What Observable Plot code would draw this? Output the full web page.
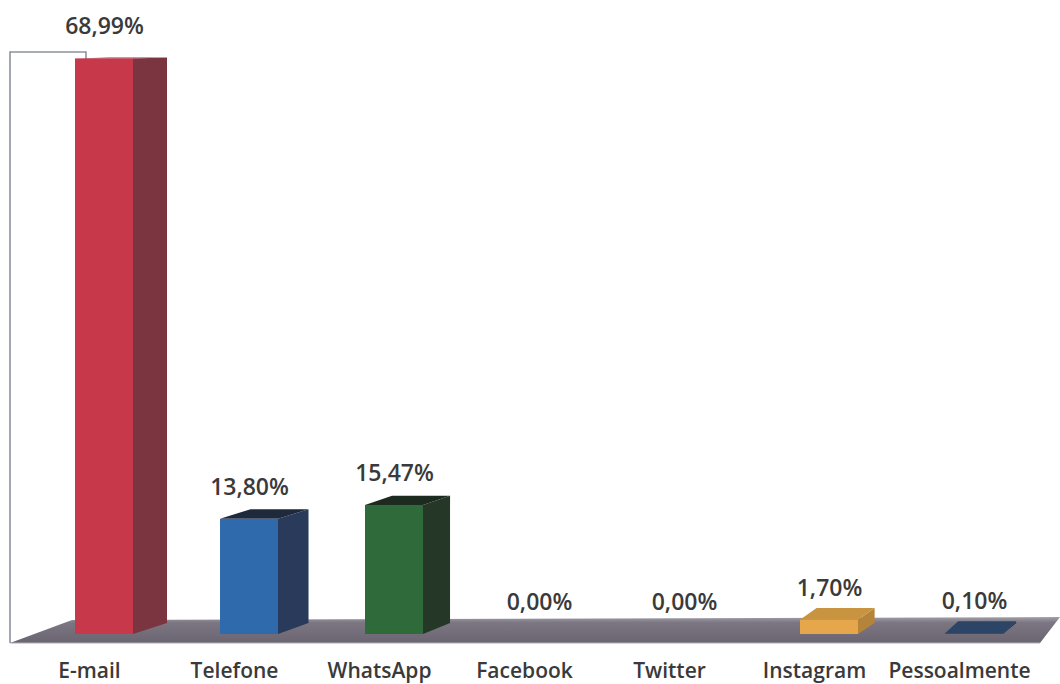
<!DOCTYPE html>
<html><head><meta charset="utf-8">
<script src="https://cdn.jsdelivr.net/npm/d3@7"></script>
<script src="https://cdn.jsdelivr.net/npm/@observablehq/plot@0.6"></script>
<style>html,body{margin:0;padding:0;background:#fff} #chart{width:1060px;height:684px;overflow:hidden}</style>
</head><body><div id="chart"></div>
<script>
const categories = ["E-mail", "Telefone", "WhatsApp", "Facebook", "Twitter", "Instagram", "Pessoalmente"];
const values = [68.99, 13.80, 15.47, 0.00, 0.00, 1.70, 0.10];
const valueLabels = ["68,99%", "13,80%", "15,47%", "0,00%", "0,00%", "1,70%", "0,10%"];

// styles (kept apart from the data)
const frontColors = ["#c8384b", "#2f6aac", "#2f6a3b", "#6a7fa8", "#5a8fc8", "#e6a64b", "#2e4a6c"];
const sideColors  = ["#7b3541", "#2a3a5a", "#253828", "#4a5a78", "#3a5a80", "#b5843a", "#1f3450"];
const topColors   = ["#9c2f3f", "#1e293c", "#1c2a20", "#3a4a68", "#2a4a70", "#c9943f", "#2c4566"];

const rows = categories.map((c, i) => ({
  category: c, value: values[i], label: valueLabels[i],
  front: frontColors[i], side: sideColors[i], top: topColors[i]
}));

const NS = "http://www.w3.org/2000/svg";
function el(tag, attrs) {
  const e = document.createElementNS(NS, tag);
  for (const k in attrs) e.setAttribute(k, attrs[k]);
  return e;
}
function bwOf(x) { return typeof x.bandwidth === "function" ? x.bandwidth() : x.bandwidth; }

// back wall + floor, positioned from the scales
function backdrop(index, scales, vals, dimensions) {
  const y = scales.y, W = dimensions.width;
  const y0 = y(0), yTop = y(70) + 2;
  const g = el("g", {});
  const defs = el("defs", {});
  const grad = el("linearGradient", {id: "floorGrad", x1: 0, y1: 0, x2: 0, y2: 1});
  grad.appendChild(el("stop", {offset: "0%", "stop-color": "#a19fa8"}));
  grad.appendChild(el("stop", {offset: "22%", "stop-color": "#7b7681"}));
  grad.appendChild(el("stop", {offset: "100%", "stop-color": "#6a6571"}));
  defs.appendChild(grad);
  g.appendChild(defs);
  const left = 10, backLeft = 86;
  // wall
  g.appendChild(el("path", {
    d: `M${left},${y0 + 9}L${left},${yTop}L${backLeft},${yTop}L${backLeft},${y0 - 14}L${left + 62},${y0 - 14}Z`,
    fill: "#ffffff", stroke: "none"
  }));
  g.appendChild(el("path", {
    d: `M${left},${y0 + 9}L${left},${yTop}L${backLeft},${yTop}L${backLeft},${y0 - 14}`,
    fill: "none", stroke: "#8c929e", "stroke-width": 1.6
  }));
  // floor
  g.appendChild(el("path", {
    d: `M${left},${y0 + 9}L${left + 62},${y0 - 14}L${W},${y0 - 17}L${W - 20},${y0 + 9}Z`,
    fill: "url(#floorGrad)", stroke: "none"
  }));
  g.appendChild(el("path", {
    d: `M${left},${y0 + 9}L${W - 20},${y0 + 9}`,
    fill: "none", stroke: "#a9adb6", "stroke-width": 1.2
  }));
  return g;
}

// side and top faces of the 3D bars, from the scales
function faces(index, scales) {
  const x = scales.x, y = scales.y;
  const bw = bwOf(x);
  const firstC = x(categories[0]) + bw / 2;
  const yb = y(0), yHi = y(69);
  const g = el("g", {});
  rows.forEach(d => {
    if (!(d.value > 0)) return;
    const x1 = x(d.category), x2 = x1 + bw, yt = y(d.value);
    const xc = (x1 + x2) / 2;
    const dx = 34 - 0.024 * (xc - firstC);
    const dy = -Math.max(1, 12 * (yt - yHi) / (yb - yHi));
    const dyb = -11;
    g.appendChild(el("path", {
      d: `M${x2},${yb}L${x2},${yt}L${x2 + dx},${yt + dy}L${x2 + dx},${Math.max(yb + dyb, yt + dy)}Z`,
      fill: d.side
    }));
    g.appendChild(el("path", {
      d: `M${x1},${yt}L${x1 + dx},${yt + dy}L${x2 + dx},${yt + dy}L${x2},${yt}Z`,
      fill: d.top
    }));
  });
  return g;
}

const font = "'Open Sans', sans-serif";
const chart = Plot.plot({
  width: 1060,
  height: 684,
  margin: 0,
  style: {background: "#fff", fontFamily: font},
  x: {domain: categories, range: [31.5, 1046.5], paddingInner: 0.6, paddingOuter: 0.3, axis: null},
  y: {domain: [0, 70], range: [634, 50], axis: null},
  marks: [
    backdrop,
    faces,
    Plot.barY(rows.filter(d => d.value > 0), {x: "category", y: "value", fill: "front"}),
    Plot.text(rows, {x: "category", y: "value", text: "label", dy: -32, fontSize: 23, fontWeight: 600, fill: "#3a3a3a", fontFamily: font}),
    Plot.text(rows, {x: "category", y: d => 0, text: "category", dx: -15, dy: 37, fontSize: 21, fontWeight: 600, fill: "#3a3a3a", fontFamily: font})
  ]
});
document.getElementById("chart").appendChild(chart);
</script>
</body></html>
